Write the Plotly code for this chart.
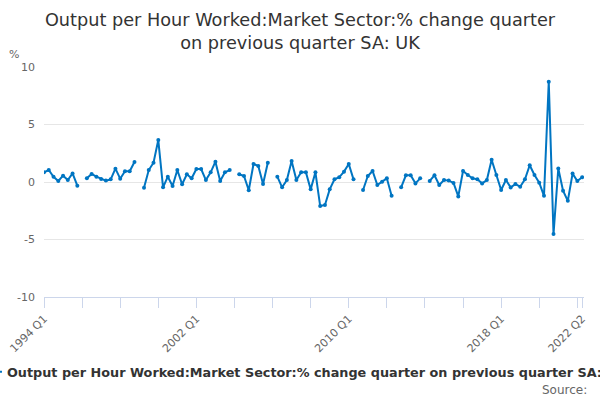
import plotly.graph_objects as go

# Quarters 1994 Q1 .. 2022 Q2
quarters = [f"{y} Q{q}" for y in range(1994, 2023) for q in range(1, 5)][:114]

values = [
    0.84, 1.04, 0.46, 0.09, 0.55, 0.17, 0.75, -0.32,          # 1994Q1-1995Q4
    None,
    0.32, 0.70, 0.46, 0.26, 0.12, 0.23, 1.16, 0.29, 0.93, 0.93, 1.74,
    None,
    -0.49, 1.04, 1.68, 3.65, -0.46, 0.46, -0.35, 1.04, -0.20, 0.67,
    0.32, 1.13, 1.13, 0.17, 0.84, 1.77, 0.09, 0.84, 1.04,
    None,
    0.67, 0.52, -0.72, 1.57, 1.39, -0.17, 1.68,
    None,
    0.46, -0.46, 0.17, 1.83, 0.17, 0.84, 0.84, -0.64, 0.84, -2.09,
    -2.00, -0.64, 0.23, 0.41, 0.90, 1.57, 0.23,
    None,
    -0.70, 0.52, 0.96, -0.26, 0.03, 0.32, -1.19,
    None,
    -0.46, 0.58, 0.58, -0.12, 0.32,
    None,
    0.09, 0.58, -0.26, 0.17, 0.12, -0.08, -1.25, 0.96, 0.61, 0.32,
    0.23, -0.12, 0.17, 1.93, 0.61, -0.70, 0.17, -0.47, -0.18, -0.41,
    0.23, 1.46, 0.61, -0.06, -1.20, 8.71, -4.53, 1.17, -0.76, -1.64,
    0.73, 0.09, 0.41,
]

series_name = "Output per Hour Worked:Market Sector:% change quarter on previous quarter SA: UK"
title_text = "Output per Hour Worked:Market Sector:% change quarter<br>on previous quarter SA: UK"

tick_idx = list(range(0, 113, 8)) + [113]
tick_labels = {0: "1994 Q1", 32: "2002 Q1", 64: "2010 Q1", 96: "2018 Q1", 113: "2022 Q2"}

y_ticks = [-10, -5, 0, 5, 10]
y_labels = ["-10", "-5", "0", "5", "10"]

x = list(range(len(values)))
color = "#0075c2"

fig = go.Figure()
fig.add_trace(go.Scatter(
    x=x, y=values, name=series_name, mode="lines+markers",
    line=dict(color=color, width=2),
    marker=dict(color=color, size=4),
    connectgaps=False,
    hovertext=quarters,
))

fig.update_layout(
    width=600, height=400,
    paper_bgcolor="white", plot_bgcolor="white",
    margin=dict(l=44, r=16, t=67, b=103, autoexpand=False),
    font=dict(family="DejaVu Sans", color="#666666", size=11),
    title=dict(text=title_text, x=0.5, xanchor="center", y=0.935, yanchor="top",
               font=dict(family="DejaVu Sans", size=17.7, color="#333333")),
    showlegend=True,
    legend=dict(orientation="h", xref="paper", yref="container",
                x=-0.1426, xanchor="left", y=0.07, yanchor="middle",
                font=dict(family="DejaVu Sans", size=12.8, color="#333333", weight="bold"),
                bgcolor="rgba(0,0,0,0)"),
    xaxis=dict(
        range=[0, 113.4],
        tickmode="array", tickvals=tick_idx,
        ticktext=[tick_labels.get(i, "") for i in tick_idx],
        tickangle=-45, ticks="outside", ticklen=10, tickcolor="#ccd6eb", tickwidth=1,
        showline=True, linecolor="#ccd6eb", linewidth=1,
        showgrid=False, zeroline=False,
        tickfont=dict(size=11, color="#666666"),
    ),
    yaxis=dict(
        range=[-10, 10],
        tickmode="array", tickvals=y_ticks, ticktext=y_labels,
        showgrid=True, gridcolor="#e6e6e6", gridwidth=1,
        zeroline=False, showline=False, ticks="",
        tickfont=dict(size=11, color="#666666"),
        ticklabelstandoff=8,
    ),
    annotations=[
        dict(text="%", xref="paper", yref="paper", x=-0.055, y=1.053,
             xanchor="center", yanchor="middle", showarrow=False,
             font=dict(size=11, color="#666666")),
        dict(text="Source:", xref="paper", yref="paper", x=1.009, y=-0.404,
             xanchor="right", yanchor="middle", showarrow=False,
             font=dict(size=12, color="#666666")),
    ],
)

fig.write_html("out.html", config={"displayModeBar": False},
               post_script="document.body.style.margin='0';")
